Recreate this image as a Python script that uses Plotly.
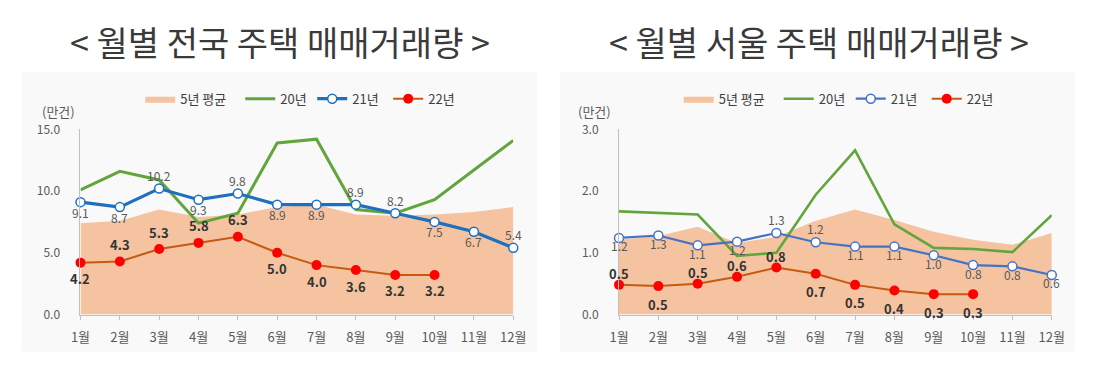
import plotly.graph_objects as go

months = ["1월", "2월", "3월", "4월", "5월", "6월", "7월", "8월", "9월", "10월", "11월", "12월"]

# 전국 (만건)
nat_avg5 = [7.4, 7.6, 8.5, 7.9, 8.1, 8.7, 8.9, 8.1, 8.0, 8.1, 8.3, 8.7]
nat_y20 = [10.1, 11.6, 10.9, 7.4, 8.2, 13.9, 14.2, 8.5, 8.2, 9.3, 11.7, 14.1]
nat_y21 = [9.1, 8.7, 10.2, 9.3, 9.8, 8.9, 8.9, 8.9, 8.2, 7.5, 6.7, 5.4]
nat_y22 = [4.2, 4.3, 5.3, 5.8, 6.3, 5.0, 4.0, 3.6, 3.2, 3.2]

# 서울 (만건)
seo_avg5 = [1.21, 1.27, 1.42, 1.16, 1.26, 1.52, 1.70, 1.53, 1.34, 1.21, 1.13, 1.32]
seo_y20 = [1.67, 1.65, 1.62, 0.95, 1.00, 1.94, 2.66, 1.46, 1.08, 1.06, 1.01, 1.61]
seo_y21 = [1.24, 1.28, 1.12, 1.18, 1.32, 1.17, 1.10, 1.10, 0.96, 0.80, 0.78, 0.64]
seo_y22 = [0.48, 0.46, 0.50, 0.61, 0.76, 0.66, 0.48, 0.39, 0.33, 0.33]

# label side: "t" = above the point, "b" = below
nat_side21 = ["b", "b", "t", "b", "t", "b", "b", "t", "t", "b", "b", "t"]
nat_side22 = ["b", "t", "t", "t", "t", "b", "b", "b", "b", "b"]
seo_side21 = ["b", "b", "b", "b", "t", "t", "b", "b", "b", "b", "b", "b"]
seo_side22 = ["t", "b", "t", "t", "t", "b", "b", "b", "b", "b"]

titles = ["< 월별 전국 주택 매매거래량 >", "< 월별 서울 주택 매매거래량 >"]
unit_label = "(만건)"

FONT = "Noto Sans CJK KR, Noto Sans, sans-serif"
W, H = 1101, 374
AREA = "#F5C3A0"
GREEN = "#62A53C"
RED_LINE = "#C55A11"
RED_MK = "#FF0000"

fig = go.Figure()

panels = [
    dict(avg=nat_avg5, y20=nat_y20, y21=nat_y21, y22=nat_y22, s21=nat_side21, s22=nat_side22,
         xa="x", ya="y", leg="legend", blue="#1F6FBF", bw=3.2, gw=3.0,
         sh21=(13, -10), sh22=(17, -16)),
    dict(avg=seo_avg5, y20=seo_y20, y21=seo_y21, y22=seo_y22, s21=seo_side21, s22=seo_side22,
         xa="x2", ya="y2", leg="legend2", blue="#4472C4", bw=2.2, gw=2.6,
         sh21=(14, -8), sh22=(11, -18)),
]

for p in panels:
    fig.add_trace(go.Scatter(x=months, y=p["avg"], name="5년 평균", mode="lines", fill="tozeroy",
                             fillcolor=AREA, line=dict(width=0, color=AREA), legendwidth=55,
                             xaxis=p["xa"], yaxis=p["ya"], legend=p["leg"], hoverinfo="skip"))
    fig.add_trace(go.Scatter(x=months, y=p["y20"], name="20년", mode="lines", legendwidth=27,
                             line=dict(color=GREEN, width=p["gw"]),
                             xaxis=p["xa"], yaxis=p["ya"], legend=p["leg"], cliponaxis=False))
    fig.add_trace(go.Scatter(x=months, y=p["y21"], name="21년", mode="lines+markers", legendwidth=31,
                             line=dict(color=p["blue"], width=p["bw"]),
                             marker=dict(size=9, color="white", line=dict(color=p["blue"], width=1.5)),
                             xaxis=p["xa"], yaxis=p["ya"], legend=p["leg"], cliponaxis=False))
    fig.add_trace(go.Scatter(x=months[:len(p["y22"])], y=p["y22"], name="22년", mode="lines+markers",
                             line=dict(color=RED_LINE, width=2),
                             marker=dict(size=10, color=RED_MK, line=dict(width=0)),
                             xaxis=p["xa"], yaxis=p["ya"], legend=p["leg"], cliponaxis=False))
    # data labels, placed at each point through the axes
    up21, dn21 = p["sh21"]
    for m, v, s in zip(months, p["y21"], p["s21"]):
        fig.add_annotation(x=m, y=v, xref=p["xa"], yref=p["ya"], text=f"{v:.1f}", showarrow=False,
                           yshift=up21 if s == "t" else dn21, borderpad=0,
                           font=dict(family=FONT, size=12, color="#595959"))
    up22, dn22 = p["sh22"]
    for m, v, s in zip(months, p["y22"], p["s22"]):
        fig.add_annotation(x=m, y=v, xref=p["xa"], yref=p["ya"], text=f"<b>{v:.1f}</b>", showarrow=False,
                           yshift=up22 if s == "t" else dn22, borderpad=0,
                           font=dict(family=FONT, size=13, color="#333333"))

x_doms = [[72 / W, 514 / W], [622 / W, 1064 / W]]
y_dom = [1 - 319 / H, 1 - 125 / H]

axis_common_x = dict(type="category", range=[0, 11], showgrid=False, showline=True, linecolor="#BFBFBF",
                     linewidth=1, ticks="outside", ticklen=4, tickcolor="#BFBFBF",
                     tickfont=dict(family=FONT, size=13, color="#595959"), ticklabelstandoff=7,
                     zeroline=False, fixedrange=True)
axis_common_y = dict(showgrid=False, showline=True, linecolor="#BFBFBF", linewidth=1, ticks="",
                     tickformat=".1f", tickfont=dict(family=FONT, size=12, color="#595959"),
                     ticklabelstandoff=17, zeroline=False, fixedrange=True)

legend_common = dict(orientation="h", yanchor="middle", xanchor="left", bgcolor="rgba(0,0,0,0)",
                     font=dict(family=FONT, size=13, color="#404040"), itemwidth=30, tracegroupgap=0)

fig.update_layout(
    width=W, height=H, margin=dict(l=0, r=0, t=0, b=0),
    paper_bgcolor="white", plot_bgcolor="rgba(0,0,0,0)",
    xaxis=dict(domain=x_doms[0], anchor="y", **axis_common_x),
    yaxis=dict(domain=y_dom, anchor="x", range=[0, 15], dtick=5, **axis_common_y),
    xaxis2=dict(domain=x_doms[1], anchor="y2", **axis_common_x),
    yaxis2=dict(domain=y_dom, anchor="x2", range=[0, 3], dtick=1, **axis_common_y),
    legend=dict(x=133 / W, y=1 - 93 / H, **legend_common),
    legend2=dict(x=683 / W, y=1 - 93 / H, **legend_common),
    showlegend=True,
)

# panel backgrounds
for x0, x1 in [(12, 538), (562, 1088)]:
    fig.add_shape(type="rect", xref="paper", yref="paper", x0=x0 / W, x1=x1 / W, y0=1 - 358 / H, y1=1 - 65 / H,
                  fillcolor="#F9F9F9", line=dict(width=0), layer="below")

for cx, t in zip([276, 826], titles):
    fig.add_annotation(x=cx / W, y=1 - 33 / H, xref="paper", yref="paper", text=t, showarrow=False,
                       font=dict(family=FONT, size=34, color="#3A3A3A"), xanchor="center", yanchor="middle")

for cx in [50, 597]:
    fig.add_annotation(x=cx / W, y=1 - 106 / H, xref="paper", yref="paper", text=unit_label, showarrow=False,
                       font=dict(family=FONT, size=13, color="#595959"), xanchor="center", yanchor="middle")

fig.write_html("out.html", config={"displayModeBar": False},
               post_script="document.body.style.margin='0';document.body.style.overflow='hidden';")
